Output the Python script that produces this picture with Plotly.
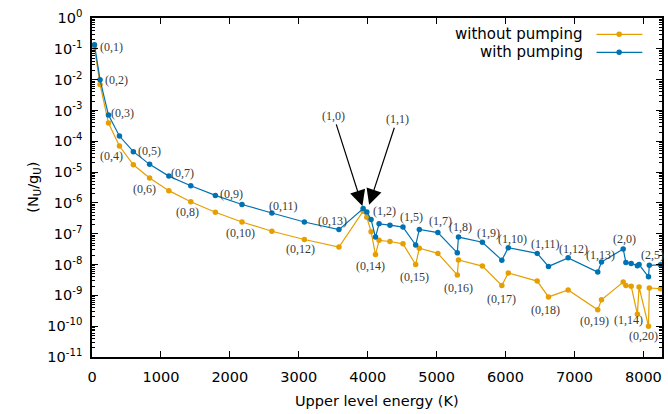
import math
import plotly.graph_objects as go

# ---------------- data ----------------
levels = ["(0,1)", "(0,2)", "(0,3)", "(0,4)", "(0,5)", "(0,6)", "(0,7)", "(0,8)", "(0,9)",
          "(0,10)", "(0,11)", "(0,12)", "(0,13)", "(1,0)", "(1,1)", "(1,2)", "(0,14)", "(1,3)",
          "(1,4)", "(1,5)", "(0,15)", "(1,6)", "(1,7)", "(0,16)", "(1,8)", "(1,9)", "(0,17)",
          "(1,10)", "(1,11)", "(0,18)", "(1,12)", "(0,19)", "(1,13)", "(2,0)", "(2,1)", "(2,2)",
          "(1,14)", "(2,3)", "(0,20)", "(2,4)", "(2,5)"]

energy_K = [36, 117, 239, 398, 600, 836, 1115, 1433, 1790,
            2176, 2610, 3081, 3583, 3934, 3987, 4049, 4113, 4165,
            4323, 4512, 4696, 4749, 5018, 5300, 5317, 5664, 5946,
            6040, 6459, 6623, 6908, 7338, 7392, 7707, 7746, 7823,
            7913, 7937, 8074, 8086, 8248]

without_pumping = [1.09e-1, 7.0e-3, 3.9e-4, 7.0e-5, 1.73e-5, 6.4e-6, 2.5e-6, 1.09e-6, 5.0e-7,
                   2.4e-7, 1.2e-7, 6.5e-8, 3.7e-8, 5.4e-7, 3.4e-7, 1.17e-7, 2.1e-8, 6.1e-8,
                   5.6e-8, 4.7e-8, 1.0e-8, 3.4e-8, 2.3e-8, 4.6e-9, 1.4e-8, 8.9e-9, 2.1e-9,
                   5.3e-9, 2.9e-9, 8.9e-10, 1.5e-9, 3.4e-10, 7.2e-10, 2.7e-9, 2.1e-9, 1.96e-9,
                   2.45e-10, 1.87e-9, 1.0e-10, 1.74e-9, 1.64e-9]

with_pumping = [1.36e-1, 9.9e-3, 7.1e-4, 1.48e-4, 4.6e-5, 1.78e-5, 7.4e-6, 3.6e-6, 1.75e-6,
                8.9e-7, 4.7e-7, 2.4e-7, 1.36e-7, 6.6e-7, 5.1e-7, 2.9e-7, 7.8e-8, 2.1e-7,
                1.9e-7, 1.64e-7, 4.3e-8, 1.38e-7, 1.09e-7, 2.4e-8, 7.8e-8, 5.3e-8, 1.39e-8,
                3.5e-8, 2.3e-8, 8.7e-9, 1.65e-8, 5.7e-9, 1.2e-8, 3.2e-8, 1.17e-8, 1.09e-8,
                9.2e-9, 1.0e-8, 4.0e-9, 9.4e-9, 9.8e-9]

series_names = ["without pumping", "with pumping"]

x_tick_values = [0, 1000, 2000, 3000, 4000, 5000, 6000, 7000, 8000]
y_tick_exponents = [0, -1, -2, -3, -4, -5, -6, -7, -8, -9, -10, -11]
y_tick_text = ["10<sup>%d</sup>" % e for e in y_tick_exponents]

# level labels: which level, which series it sits next to
label_levels = ["(0,1)", "(0,2)", "(0,3)", "(0,4)", "(0,5)", "(0,6)", "(0,7)", "(0,8)",
                "(0,9)", "(0,10)", "(0,11)", "(0,12)", "(0,13)", "(1,2)", "(0,14)", "(1,5)",
                "(0,15)", "(1,7)", "(1,8)", "(0,16)", "(1,9)", "(1,10)", "(0,17)", "(1,11)",
                "(0,18)", "(1,12)", "(0,19)", "(1,13)", "(2,0)", "(2,5)", "(1,14)", "(0,20)"]
label_series = ["w", "w", "w", "n", "w", "n", "w", "n",
                "w", "n", "w", "n", "w", "w", "n", "w",
                "n", "w", "w", "n", "w", "w", "n", "w",
                "n", "w", "n", "w", "w", "w", "n", "n"]
arrow_levels = ["(1,0)", "(1,1)"]

# ---------------- style ----------------
ORANGE = "#E69F00"
BLUE = "#0072B2"
SANS = "DejaVu Sans"
SERIF = "Liberation Serif"
LABEL_COLOR = "#3a3a3a"

# pixel offsets of labels (dx right, dy down)
label_offsets = [(16.6, 2), (16.7, 0), (14.3, -2), (-8, 10), (16.3, -0.7), (-5.5, 11), (13.7, -3.5), (-3.3, 10.3),
                 (16.3, -1), (-1.7, 10.7), (11.3, -7.3), (-4.3, 9.4), (-6, -8.5), (13.4, -8.8), (-5, 11.8), (8.4, -10.5),
                 (-1, 12.7), (2.4, -12), (1.7, -10), (0.7, 13), (6.3, -9.7), (4.2, -8.8), (-0.2, 13.2), (8.7, -9.7),
                 (-3, 13), (5, -9), (-2.8, 11), (-1, -7.5), (0.9, -10.2), (-8, -9.7), (-8.5, 5.7), (-4.9, 10)]
arrow_style = [dict(ax=-29.6, ay=-92.6, standoff=2.5), dict(ax=30.3, ay=-92.7, standoff=7.5)]

W, H = 668, 414
ML, MR, MT, MB = 92, 4, 18, 57
PW, PH = W - ML - MR, H - MT - MB


def px_to_paper_x(px):
    return (px - ML) / PW


def px_to_paper_y(py):
    return 1 - (py - MT) / PH


fig = go.Figure()
for name, vals, col in [(series_names[0], without_pumping, ORANGE), (series_names[1], with_pumping, BLUE)]:
    fig.add_trace(go.Scatter(
        x=energy_K, y=vals, mode="lines+markers", name=name,
        line=dict(color=col, width=1.2),
        marker=dict(color=col, size=5.5, symbol="circle"),
        showlegend=False,
    ))

annotations = []
idx = {lv: i for i, lv in enumerate(levels)}
for lv, s, (dx, dy) in zip(label_levels, label_series, label_offsets):
    i = idx[lv]
    v = with_pumping[i] if s == "w" else without_pumping[i]
    annotations.append(dict(
        x=energy_K[i], y=math.log10(v), xref="x", yref="y", text=lv, showarrow=False,
        xshift=dx, yshift=-dy, xanchor="center", yanchor="middle",
        font=dict(family=SERIF, size=12, color=LABEL_COLOR),
    ))

for lv, st in zip(arrow_levels, arrow_style):
    i = idx[lv]
    annotations.append(dict(
        x=energy_K[i], y=math.log10(with_pumping[i]), xref="x", yref="y", text=lv,
        showarrow=True, arrowhead=2, arrowsize=2.6, arrowwidth=1.2, arrowcolor="black",
        ax=st["ax"], ay=st["ay"], axref="pixel", ayref="pixel", standoff=st["standoff"],
        font=dict(family=SERIF, size=12, color=LABEL_COLOR),
    ))

# axis titles
annotations.append(dict(x=0.5, y=px_to_paper_y(401), xref="paper", yref="paper",
                        text="Upper level energy (K)", showarrow=False,
                        xanchor="center", yanchor="middle",
                        font=dict(family=SANS, size=14.5, color="black")))
annotations.append(dict(x=px_to_paper_x(33), y=0.5, xref="paper", yref="paper",
                        text="(N<sub>U</sub>/g<sub>U</sub>)", showarrow=False, textangle=-90,
                        xanchor="center", yanchor="middle",
                        font=dict(family=SANS, size=14.5, color="black")))

# manual legend (text left, key right)
shapes = []
legend_rows = [(34.3, series_names[0], ORANGE), (52.3, series_names[1], BLUE)]
for py, name, col in legend_rows:
    annotations.append(dict(x=px_to_paper_x(587), y=px_to_paper_y(py), xref="paper", yref="paper",
                            text=name, showarrow=False, xanchor="right", yanchor="middle",
                            font=dict(family=SANS, size=15, color="black")))
    shapes.append(dict(type="line", xref="paper", yref="paper",
                       x0=px_to_paper_x(598.3), x1=px_to_paper_x(644.3),
                       y0=px_to_paper_y(py), y1=px_to_paper_y(py),
                       line=dict(color=col, width=1.2)))
    shapes.append(dict(type="circle", xref="paper", yref="paper",
                       xsizemode="pixel", ysizemode="pixel",
                       xanchor=px_to_paper_x(621), yanchor=px_to_paper_y(py),
                       x0=-2.75, x1=2.75, y0=-2.75, y1=2.75,
                       fillcolor=col, line=dict(color=col, width=0)))

minor_vals = [m * 10.0 ** e for e in range(-11, 0) for m in range(2, 10)]

fig.update_layout(
    width=W, height=H,
    margin=dict(l=ML, r=MR, t=MT, b=MB, pad=0),
    paper_bgcolor="white", plot_bgcolor="white",
    annotations=annotations, shapes=shapes,
    showlegend=False,
    xaxis=dict(
        range=[0, 8270], tickmode="array", tickvals=x_tick_values,
        ticks="inside", ticklen=6, tickwidth=1, tickcolor="black",
        showline=True, linewidth=1.5, linecolor="black", mirror="ticks",
        showgrid=False, zeroline=False, ticklabelstandoff=6,
        tickfont=dict(family=SANS, size=14.5, color="black"),
    ),
    yaxis=dict(
        type="log", range=[-11, 0], tickmode="array",
        tickvals=[10.0 ** e for e in y_tick_exponents], ticktext=y_tick_text,
        ticks="inside", ticklen=6, tickwidth=1, tickcolor="black",
        showline=True, linewidth=1.5, linecolor="black", mirror="ticks",
        showgrid=False, zeroline=False, ticklabelstandoff=5,
        tickfont=dict(family=SANS, size=14.5, color="black"),
        minor=dict(tickmode="array", tickvals=minor_vals, ticks="inside",
                   ticklen=3, tickwidth=1, tickcolor="black", showgrid=False),
    ),
)

fig.write_html("out.html")
